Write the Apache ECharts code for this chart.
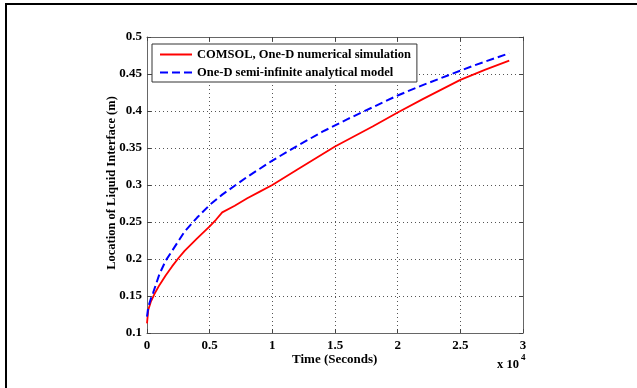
<!DOCTYPE html>
<html>
<head>
<meta charset="utf-8">
<script src="https://cdn.jsdelivr.net/npm/echarts@6/dist/echarts.min.js"></script>
<style>
  html, body { margin: 0; padding: 0; background: #fff; }
  #chart { width: 637px; height: 388px; }
</style>
</head>
<body>
<div id="chart"></div>
<script>
// Liquid interface location versus time (seconds)
const comsolTime = [0, 100, 300, 600, 1000, 1500, 2000, 2500, 3000, 4000, 5000, 5500, 6000, 7000, 8000, 9000, 10000, 12000, 15000, 18000, 20000, 22000, 25000, 27000, 28900];
const comsolLoc  = [0.113, 0.131, 0.142, 0.153, 0.165, 0.178, 0.190, 0.201, 0.211, 0.228, 0.244, 0.253, 0.263, 0.272, 0.282, 0.291, 0.300, 0.321, 0.352, 0.379, 0.398, 0.416, 0.442, 0.456, 0.468];

const analyticTime = [0, 100, 300, 500, 1000, 1500, 2000, 3000, 4000, 5000, 6000, 7000, 8000, 9000, 10000, 12000, 14000, 16000, 18000, 20000, 22000, 24000, 26000, 28900];
const analyticLoc  = [0.122, 0.135, 0.146, 0.155, 0.180, 0.198, 0.211, 0.237, 0.256, 0.273, 0.287, 0.299, 0.311, 0.322, 0.333, 0.353, 0.372, 0.389, 0.405, 0.421, 0.435, 0.448, 0.461, 0.478];

const seriesNames = ['COMSOL, One-D numerical simulation', 'One-D semi-infinite analytical model'];
const xTitle = 'Time (Seconds)';
const yTitle = 'Location of Liquid Interface (m)';

const FONT = '"Liberation Serif", "DejaVu Serif", serif';
const zip = (a, b) => a.map((v, i) => [v, b[i]]);

const gridLine = { show: true, lineStyle: { color: '#555', width: 1, type: [1, 3] } };
const boxLine = { show: true, onZero: false, lineStyle: { color: '#666', width: 1 } };
const tickIn = { show: true, inside: true, length: 4, lineStyle: { color: '#444' } };
const tickLabel = { color: '#000', fontFamily: FONT, fontWeight: 'bold', fontSize: 13 };

const chart = echarts.init(document.getElementById('chart'), null, { renderer: 'canvas' });
chart.setOption({
  animation: false,
  backgroundColor: '#fff',
  grid: { left: 147, top: 37, width: 376, height: 296, containLabel: false },
  xAxis: [
    {
      type: 'value', min: 0, max: 30000, interval: 5000,
      axisLine: boxLine, axisTick: tickIn, splitLine: gridLine,
      axisLabel: Object.assign({ margin: 6, formatter: v => String(v / 10000) }, tickLabel)
    },
    {
      type: 'value', position: 'top', min: 0, max: 30000, interval: 5000,
      axisLine: boxLine, axisTick: tickIn, splitLine: { show: false }, axisLabel: { show: false }
    }
  ],
  yAxis: [
    {
      type: 'value', min: 0.1, max: 0.5, interval: 0.05,
      axisLine: boxLine, axisTick: tickIn, splitLine: gridLine,
      axisLabel: Object.assign({ margin: 5, formatter: v => String(+v.toFixed(2)) }, tickLabel)
    },
    {
      type: 'value', position: 'right', min: 0.1, max: 0.5, interval: 0.05,
      axisLine: boxLine, axisTick: tickIn, splitLine: { show: false }, axisLabel: { show: false }
    }
  ],
  legend: {
    orient: 'vertical', left: 152, top: 44,
    backgroundColor: '#fff', borderColor: '#333', borderWidth: 1,
    padding: [4, 6, 3, 7], itemGap: 5, itemWidth: 32, itemHeight: 12,
    itemStyle: { opacity: 0 },
    textStyle: { color: '#000', fontFamily: FONT, fontWeight: 'bold', fontSize: 12.5 },
    data: seriesNames
  },
  series: [
    {
      name: seriesNames[0], type: 'line', showSymbol: false, symbol: 'none',
      lineStyle: { color: '#ff0000', width: 1.8 }, itemStyle: { color: '#ff0000' },
      data: zip(comsolTime, comsolLoc)
    },
    {
      name: seriesNames[1], type: 'line', showSymbol: false, symbol: 'none',
      lineStyle: { color: '#0000ff', width: 2, type: [8, 4] }, itemStyle: { color: '#0000ff' },
      data: zip(analyticTime, analyticLoc)
    }
  ],
  graphic: [
    { type: 'rect', shape: { x: 5, y: 3, width: 632, height: 2 }, style: { fill: '#000' }, silent: true },
    { type: 'rect', shape: { x: 5, y: 3, width: 2, height: 385 }, style: { fill: '#000' }, silent: true },
    { type: 'text', left: 292, top: 353, style: { text: xTitle, fill: '#000', font: 'bold 13px ' + FONT } },
    { type: 'text', left: 497, top: 358, style: { text: 'x 10', fill: '#000', font: 'bold 12.5px ' + FONT } },
    { type: 'text', left: 521, top: 353, style: { text: '4', fill: '#000', font: 'bold 9px ' + FONT } },
    {
      type: 'text', x: 112, y: 183, rotation: Math.PI / 2,
      style: { text: yTitle, fill: '#000', font: 'bold 12.5px ' + FONT, align: 'center', verticalAlign: 'middle' }
    }
  ]
});
</script>
</body>
</html>
